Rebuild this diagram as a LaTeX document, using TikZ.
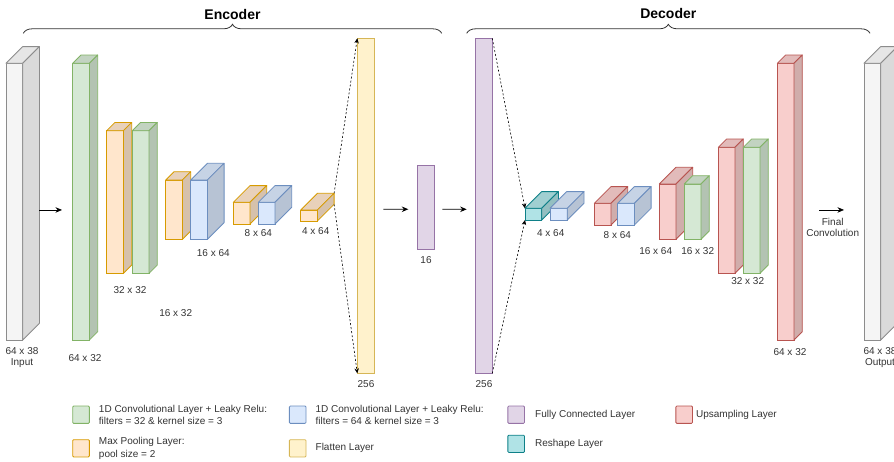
\documentclass[tikz,border=0pt]{standalone}
\usepackage{fontspec}
\setmainfont{Liberation Sans}
\usepackage{tikz}
\usetikzlibrary{arrows.meta,positioning,calc,decorations.pathreplacing}

% layer colours: kind, fill, line (top and side faces are darker shades of the fill)
\newcommand{\kindcolors}[3]{%
  \definecolor{#1fill}{HTML}{#2}\definecolor{#1line}{HTML}{#3}%
  \colorlet{#1top}{#1fill!91!black}\colorlet{#1side}{#1fill!84!black}}
\kindcolors{io}{F5F5F5}{8C8C8C}
\kindcolors{convA}{D5E8D4}{82B366}
\kindcolors{convB}{DAE8FC}{6C8EBF}
\kindcolors{pool}{FFE6CC}{D79B00}
\kindcolors{flat}{FFF2CC}{D6B656}
\kindcolors{dense}{E1D5E7}{9673A6}
\kindcolors{resh}{B0E3E6}{0E8088}
\kindcolors{up}{F8CECC}{B85450}
\colorlet{iotop}{iofill!94!black}
\colorlet{ioside}{iofill!89!black}
\definecolor{labeltext}{HTML}{333333}

\tikzset{
  front/.style={draw=#1line, fill=#1fill, line width=0.8pt, inner sep=0pt, outer sep=0pt},
  dim/.style={font=\fontsize{10}{11.5}\selectfont, text=labeltext, align=center, inner sep=0pt},
  legtext/.style={font=\fontsize{10}{12.4}\selectfont, text=labeltext, align=left, inner sep=0pt},
  swatch/.style={draw=#1line, fill=#1fill, line width=0.8pt, minimum width=16.7, minimum height=17.3,
                 rounded corners=1pt, inner sep=0pt},
  flow/.style={-{Stealth[length=6.5pt,width=5.5pt]}, line width=0.8pt},
  spread/.style={dash pattern=on 2pt off 2pt, -{Stealth[length=5pt,width=4.5pt]}, line width=0.6pt},
  curly/.style={decorate, decoration={brace, amplitude=9pt}, line width=0.8pt, draw=black!80},
  part/.style={font=\bfseries\fontsize{14}{16}\selectfont, inner sep=0pt},
}

% a layer drawn as a box: name, kind, x, y (top left of front face), width, height, depth
\newcommand{\layerbox}[7]{%
  \node[front=#2, minimum width=#5, minimum height=#6, anchor=north west] (#1) at (#3,#4) {};
  \filldraw[draw=#2line, fill=#2top, line width=0.8pt, line join=round]
    (#1.north west) -- ++(#7,-#7) -- ++(#5,0) -- (#1.north east) -- cycle;
  \filldraw[draw=#2line, fill=#2side, line width=0.8pt, line join=round]
    (#1.north east) -- ++(#7,-#7) -- ++(0,#6) -- (#1.south east) -- cycle;
}

\begin{document}
\begin{tikzpicture}[x=1pt, y=-1pt]
  \useasboundingbox (0,0) rectangle (894,461);

  % encoder
  \layerbox{inp}{io}{6}{63.3}{16.7}{276.7}{16.7}
  \layerbox{c1}{convA}{72.7}{63.3}{16.7}{276.7}{8.3}
  \layerbox{p1}{pool}{106.7}{130.7}{16.7}{142.7}{8.3}
  \layerbox{c2}{convA}{132.3}{130.7}{16.7}{142.7}{8.3}
  \layerbox{p2}{pool}{165.7}{180}{16.7}{59.3}{8.3}
  \layerbox{c3}{convB}{190.7}{180}{16.7}{59.3}{16.7}
  \layerbox{p3}{pool}{233.3}{202.3}{16.7}{21.7}{16.7}
  \layerbox{c4}{convB}{258.3}{202.3}{16.7}{21.7}{16.7}
  \layerbox{p4}{pool}{300.7}{210}{16.7}{11}{16.7}
  \node[front=flat, minimum width=17, minimum height=335, anchor=north west] (flat) at (357.3,38.3) {};

  % bottleneck
  \node[front=dense, minimum width=16.7, minimum height=84.3, anchor=north west] (fc16) at (417.3,165) {};
  \node[front=dense, minimum width=17.3, minimum height=335, anchor=north west] (fc256) at (475,38.3) {};

  % decoder
  \layerbox{resh}{resh}{525}{208.3}{16.7}{11.7}{16.7}
  \layerbox{c5}{convB}{550}{208.3}{17.3}{11.7}{16.7}
  \layerbox{up1}{up}{594.3}{203.3}{16.7}{21.7}{16.7}
  \layerbox{c6}{convB}{617.7}{203.3}{16.7}{21.7}{16.7}
  \layerbox{up2}{up}{659.3}{184}{16.7}{55.3}{16.7}
  \layerbox{c7}{convA}{684.3}{184}{16.7}{55.3}{8.3}
  \layerbox{up3}{up}{718.3}{147.3}{16.7}{126}{8.3}
  \layerbox{c8}{convA}{743.3}{147.3}{16.7}{126}{8.3}
  \layerbox{up4}{up}{777.3}{63.3}{16.7}{276.7}{8.3}
  \layerbox{out}{io}{864}{63.3}{16.7}{276.7}{16.7}

  % shapes
  \node[dim] (d-inp) at (22,357.5) {64 x 38\\Input};
  \node[dim] (d-c1) at (85,358) {64 x 32};
  \node[dim] (d-c2) at (130,290) {32 x 32};
  \node[dim] (d-p2) at (175.7,313.3) {16 x 32};
  \node[dim] (d-c3) at (213.3,253.3) {16 x 64};
  \node[dim] (d-c4) at (258.3,233.3) {8 x 64};
  \node[dim] (d-p4) at (315.7,231) {4 x 64};
  \node[dim] (d-flat) at (366,384.3) {256};
  \node[dim] (d-fc16) at (426,260) {16};
  \node[dim] (d-fc256) at (484,384.3) {256};
  \node[dim] (d-c5) at (550.7,233.3) {4 x 64};
  \node[dim] (d-c6) at (617.3,235) {8 x 64};
  \node[dim] (d-up2) at (655.7,250.7) {16 x 64};
  \node[dim] (d-c7) at (697.7,250.7) {16 x 32};
  \node[dim] (d-c8) at (747.7,281) {32 x 32};
  \node[dim] (d-up4) at (790,352.3) {64 x 32};
  \node[dim] (d-out) at (880,357.5) {64 x 38\\Output};

  % connectors
  \draw[flow] ($(inp.east)+(16.7,8.3)$) -- ($(c1.west)+(-10.7,8.3)$);
  \draw[flow] ($(flat.east)+(9,3.5)$) -- ($(fc16.west)+(-9,2.1)$);
  \draw[flow] ($(fc16.east)+(8.3,2.1)$) -- ($(fc256.west)+(-8.3,3.5)$);
  \draw[flow] ($(up4.east)+(25.3,8.3)$) -- ($(out.west)+(-20,8.3)$);
  \node[dim] (d-final) at (832.7,227.5) {Final\\Convolution};

  \draw[spread] ($(p4.north east)+(16.7,-16.7)$) -- (flat.north west);
  \draw[spread] ($(p4.south east)+(16.7,-16.7)$) -- (flat.south west);
  \draw[spread] (fc256.north east) -- (resh.north west);
  \draw[spread] (fc256.south east) -- (resh.south west);

  % encoder / decoder braces
  \coordinate (enc-l) at (23.3,33.3);
  \coordinate (enc-r) at (441.7,33.3);
  \coordinate (dec-l) at (466.7,33.3);
  \coordinate (dec-r) at (870,33.3);
  \draw[curly] (enc-l) -- (enc-r);
  \draw[curly] (dec-l) -- (dec-r);
  \node[part] (enc) at (232.5,14.3) {Encoder};
  \node[part] (dec) at (668.3,13) {Decoder};

  % legend
  \node[swatch=convA] (sw-convA) at (81,414.7) {};
  \node[legtext, right=9pt of sw-convA] (lt-convA) {1D Convolutional Layer + Leaky Relu:\\filters = 32 \& kernel size = 3};
  \node[swatch=pool] (sw-pool) at (81,448.3) {};
  \node[legtext, right=9pt of sw-pool] (lt-pool) {Max Pooling Layer:\\pool size = 2};
  \node[swatch=convB] (sw-convB) at (297.7,414.7) {};
  \node[legtext, right=9pt of sw-convB] (lt-convB) {1D Convolutional Layer + Leaky Relu:\\filters = 64 \& kernel size = 3};
  \node[swatch=flat] (sw-flat) at (297.7,448.3) {};
  \node[legtext, right=9pt of sw-flat] (lt-flat) {Flatten Layer};
  \node[swatch=dense] (sw-dense) at (516.2,414.7) {};
  \node[legtext, right=10pt of sw-dense] (lt-dense) {Fully Connected Layer};
  \node[swatch=resh] (sw-resh) at (516.2,443.8) {};
  \node[legtext, right=10pt of sw-resh] (lt-resh) {Reshape Layer};
  \node[swatch=up] (sw-up) at (684.2,414.7) {};
  \node[legtext, right=3pt of sw-up] (lt-up) {Upsampling Layer};
\end{tikzpicture}
\end{document}
